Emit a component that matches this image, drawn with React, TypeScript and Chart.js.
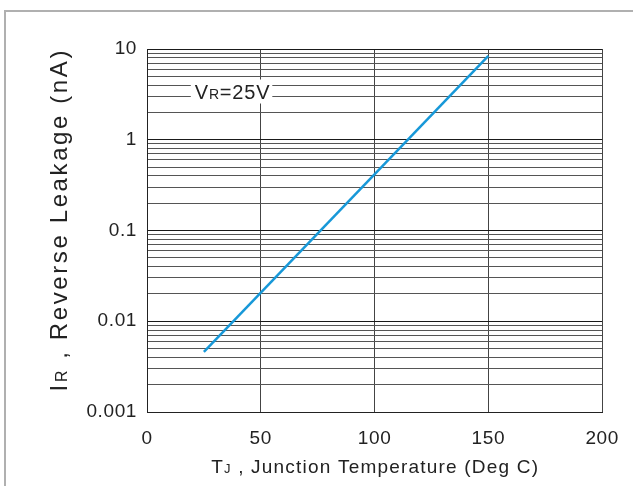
import React, { useEffect, useRef } from "react";
import { Chart, registerables } from "chart.js";

Chart.register(...registerables);

// ---- data ----
const temperatures = [25, 150];
const leakage = [0.0046, 8.4];
const xTickValues = [0, 50, 100, 150, 200];
const yDecades = [0.001, 0.01, 0.1, 1, 10];
const yTickLabels = ["0.001", "0.01", "0.1", "1", "10"];
const minorMultipliers = [2, 3, 4, 5, 6, 7, 8, 9];
const annotationText = { main: "V", sub: "R", rest: "=25V" };
const annotationPos = { x: 21, y: 3.4 };

const FONT = "'Liberation Sans', Arial, sans-serif";

type Seg = { t: string; size: number };

function measureSegs(ctx: CanvasRenderingContext2D, segs: Seg[]) {
  return segs.map((s) => {
    ctx.font = `${s.size}px ${FONT}`;
    return ctx.measureText(s.t).width;
  });
}

function drawSegs(ctx: CanvasRenderingContext2D, segs: Seg[], x: number, y: number, align: "left" | "center", spacing: number) {
  (ctx as any).letterSpacing = `${spacing}px`;
  const widths = measureSegs(ctx, segs);
  const total = widths.reduce((a, b) => a + b, 0) - spacing;
  let cx = align === "center" ? x - total / 2 : x;
  ctx.textBaseline = "alphabetic";
  ctx.textAlign = "left";
  segs.forEach((s, i) => {
    ctx.font = `${s.size}px ${FONT}`;
    ctx.fillText(s.t, cx, y);
    cx += widths[i];
  });
  return total;
}

const labelsPlugin = {
  id: "customLabels",
  beforeDraw(chart: any) {
    (chart.ctx as any).letterSpacing = "0.6px";
  },
  afterDatasetsDraw(chart: any) {
    const { ctx, scales } = chart;
    ctx.save();
    const ax = scales.x.getPixelForValue(annotationPos.x);
    const ay = scales.y.getPixelForValue(annotationPos.y);
    const segs: Seg[] = [
      { t: annotationText.main, size: 20 },
      { t: annotationText.sub, size: 14 },
      { t: annotationText.rest, size: 20 },
    ];
    (ctx as any).letterSpacing = "0.8px";
    const w = measureSegs(ctx, segs).reduce((a, b) => a + b, 0);
    ctx.fillStyle = "#fff";
    ctx.fillRect(ax - 4, ay - 12, w + 6, 24);
    ctx.fillStyle = "#222";
    drawSegs(ctx, segs, ax, ay + 7, "left", 0.8);
    ctx.restore();
  },
  afterDraw(chart: any) {
    const { ctx, chartArea } = chart;
    ctx.save();
    ctx.fillStyle = "#222";
    const cx = (chartArea.left + chartArea.right) / 2;
    drawSegs(
      ctx,
      [
        { t: "T", size: 19 },
        { t: "J", size: 13 },
        { t: " , Junction Temperature (Deg C)", size: 19 },
      ],
      cx,
      473,
      "center",
      1.2
    );
    ctx.translate(67, 221);
    ctx.rotate(-Math.PI / 2);
    drawSegs(
      ctx,
      [
        { t: "I", size: 24 },
        { t: "R", size: 16 },
        { t: " , Reverse Leakage (nA)", size: 24 },
      ],
      0,
      0,
      "center",
      2.6
    );
    ctx.restore();
  },
};

export default function App() {
  const ref = useRef<HTMLCanvasElement | null>(null);
  useEffect(() => {
    const canvas = ref.current;
    if (!canvas) return;
    const majorSet = new Set(yDecades);
    const allY: number[] = [];
    yDecades.forEach((d, i) => {
      allY.push(d);
      if (i < yDecades.length - 1) minorMultipliers.forEach((m) => allY.push(+(d * m).toPrecision(3)));
    });
    const chart = new Chart(canvas, {
      type: "line",
      data: {
        datasets: [
          {
            data: temperatures.map((t, i) => ({ x: t, y: leakage[i] })),
            borderColor: "#1798d8",
            borderWidth: 2.5,
            pointRadius: 0,
            fill: false,
            tension: 0,
          },
        ],
      },
      plugins: [labelsPlugin],
      options: {
        animation: false,
        responsive: false,
        maintainAspectRatio: false,
        devicePixelRatio: 1,
        layout: { padding: { left: 0, right: 29, top: 49, bottom: 0 } },
        plugins: { legend: { display: false }, tooltip: { enabled: false } },
        scales: {
          x: {
            type: "linear",
            min: 0,
            max: 200,
            afterBuildTicks: (scale: any) => {
              scale.ticks = xTickValues.map((v) => ({ value: v }));
            },
            afterFit: (scale: any) => {
              scale.height = 74;
            },
            grid: { color: "#444", lineWidth: 1, drawTicks: false },
            border: { color: "#222", width: 1 },
            ticks: {
              padding: 15,
              color: "#222",
              font: { family: FONT, size: 19 },
              maxRotation: 0,
              autoSkip: false,
            },
          },
          y: {
            type: "logarithmic",
            min: 0.001,
            max: 10,
            afterBuildTicks: (scale: any) => {
              scale.ticks = allY.map((v) => ({ value: v, major: majorSet.has(v) }));
            },
            afterFit: (scale: any) => {
              scale.width = 147;
            },
            grid: {
              color: (c: any) => (c.tick && majorSet.has(c.tick.value) ? "#1a1a1a" : "#555"),
              lineWidth: 1,
              drawTicks: false,
            },
            border: { color: "#222", width: 1 },
            ticks: {
              padding: 10,
              color: "#222",
              font: { family: FONT, size: 19 },
              autoSkip: false,
              callback: (v: any) => {
                const i = yDecades.findIndex((d) => Math.abs(d - v) / d < 1e-6);
                return i >= 0 ? yTickLabels[i] : "";
              },
            },
          },
        },
      },
    });
    return () => chart.destroy();
  }, []);
  return (
    <div style={{ position: "fixed", left: 0, top: 0, width: 633, height: 486, background: "#fff", overflow: "hidden" }}>
      <div
        style={{
          position: "absolute",
          left: 4,
          top: 10,
          width: 700,
          height: 600,
          border: "2px solid #b0b0b0",
          boxSizing: "border-box",
        }}
      />
      <canvas ref={ref} width={633} height={486} style={{ position: "absolute", left: 0, top: 0, width: 633, height: 486 }} />
    </div>
  );
}
